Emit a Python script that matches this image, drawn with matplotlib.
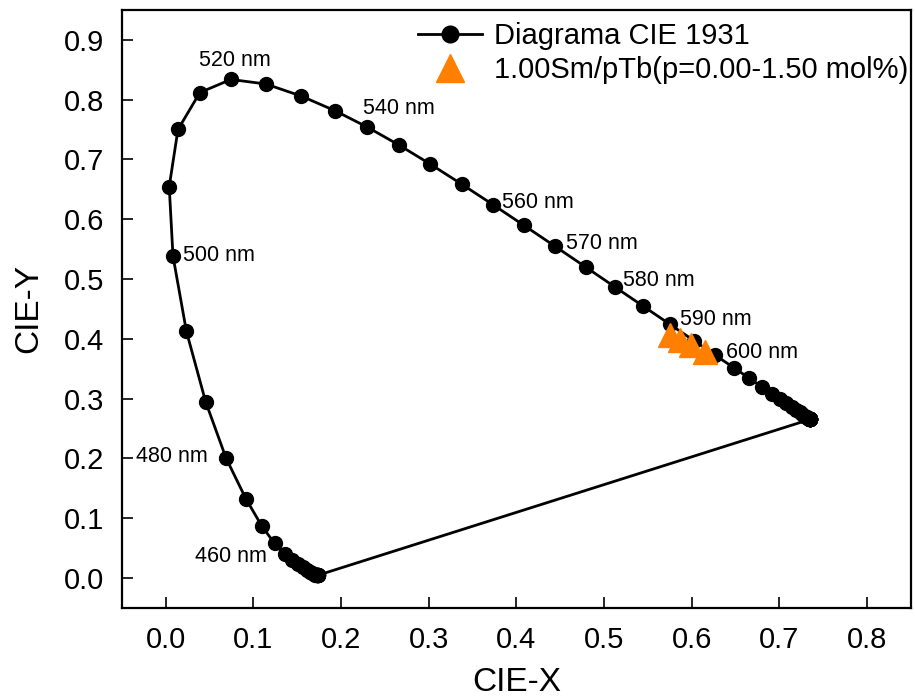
import matplotlib
matplotlib.use('Agg')
import matplotlib.pyplot as plt

plt.rcParams['font.family'] = ['Liberation Sans', 'DejaVu Sans']

# CIE 1931 spectral locus, 380-780 nm every 5 nm
cie_x = [0.1741, 0.1740, 0.1738, 0.1736, 0.1733, 0.1730, 0.1726, 0.1721,
         0.1714, 0.1703, 0.1689, 0.1669, 0.1644, 0.1611, 0.1566, 0.1510,
         0.1440, 0.1355, 0.1241, 0.1096, 0.0913, 0.0687, 0.0454, 0.0235,
         0.0082, 0.0039, 0.0139, 0.0389, 0.0743, 0.1142, 0.1547, 0.1929,
         0.2296, 0.2658, 0.3016, 0.3373, 0.3731, 0.4087, 0.4441, 0.4788,
         0.5125, 0.5448, 0.5752, 0.6029, 0.6270, 0.6482, 0.6658, 0.6801,
         0.6915, 0.7006, 0.7079, 0.7140, 0.7190, 0.7230, 0.7260, 0.7283,
         0.7300, 0.7311, 0.7320, 0.7327, 0.7334, 0.7340, 0.7344, 0.7346,
         0.7347] + [0.7347] * 16
cie_y = [0.0050, 0.0050, 0.0049, 0.0049, 0.0048, 0.0048, 0.0048, 0.0048,
         0.0051, 0.0058, 0.0069, 0.0086, 0.0109, 0.0138, 0.0177, 0.0227,
         0.0297, 0.0399, 0.0578, 0.0868, 0.1327, 0.2007, 0.2950, 0.4127,
         0.5384, 0.6548, 0.7502, 0.8120, 0.8338, 0.8262, 0.8059, 0.7816,
         0.7543, 0.7243, 0.6923, 0.6589, 0.6245, 0.5896, 0.5547, 0.5202,
         0.4866, 0.4544, 0.4242, 0.3965, 0.3725, 0.3514, 0.3340, 0.3197,
         0.3083, 0.2993, 0.2920, 0.2859, 0.2809, 0.2770, 0.2740, 0.2717,
         0.2700, 0.2689, 0.2680, 0.2673, 0.2666, 0.2660, 0.2656, 0.2654,
         0.2653] + [0.2653] * 16

# muestras 1.00Sm/pTb
sm_x = [0.575, 0.587, 0.599, 0.615]
sm_y = [0.407, 0.398, 0.390, 0.378]

nm_labels = ['460 nm', '480 nm', '500 nm', '520 nm', '540 nm',
             '560 nm', '570 nm', '580 nm', '590 nm', '600 nm']
nm_pos = [(0.0335, 0.036), (-0.034, 0.203), (0.020, 0.539), (0.038, 0.865),
          (0.2245, 0.785), (0.384, 0.628), (0.457, 0.560), (0.522, 0.497),
          (0.587, 0.433), (0.6385, 0.378)]

fig = plt.figure(figsize=(9.15, 6.98), dpi=100)
ax = fig.add_axes([0.1333, 0.129, 0.8623, 0.8567])

ax.plot(cie_x + cie_x[:1], cie_y + cie_y[:1], '-o', color='black',
        lw=2, ms=10, label='Diagrama CIE 1931')
ax.plot(sm_x, sm_y, '^', color='#ff8000', ms=17, ls='none',
        label='1.00Sm/pTb(p=0.00-1.50 mol%)')

for txt, (tx, ty) in zip(nm_labels, nm_pos):
    ax.text(tx, ty, txt, fontsize=15.5, ha='left', va='center')

ax.set_xlim(-0.05, 0.85)
ax.set_ylim(-0.05, 0.95)
ax.set_xticks([i / 10 for i in range(9)])
ax.set_yticks([i / 10 for i in range(10)])
ax.set_xticklabels(['%.1f' % (i / 10) for i in range(9)])
ax.set_yticklabels(['%.1f' % (i / 10) for i in range(10)])
ax.tick_params(direction='in', length=8, width=1.2, labelsize=21, pad=13,
               top=False, right=False)
for s in ax.spines.values():
    s.set_linewidth(1.6)

ax.set_xlabel('CIE-X', fontsize=24, labelpad=9)
ax.set_ylabel('CIE-Y', fontsize=24, labelpad=14)

ax.legend(loc='upper left', bbox_to_anchor=(0.375, 0.98), frameon=False,
          fontsize=21, handlelength=2.2, handletextpad=0.4,
          labelspacing=0.2, borderaxespad=0, borderpad=0, markerscale=1.2)

fig.savefig('out.png', dpi=100)
